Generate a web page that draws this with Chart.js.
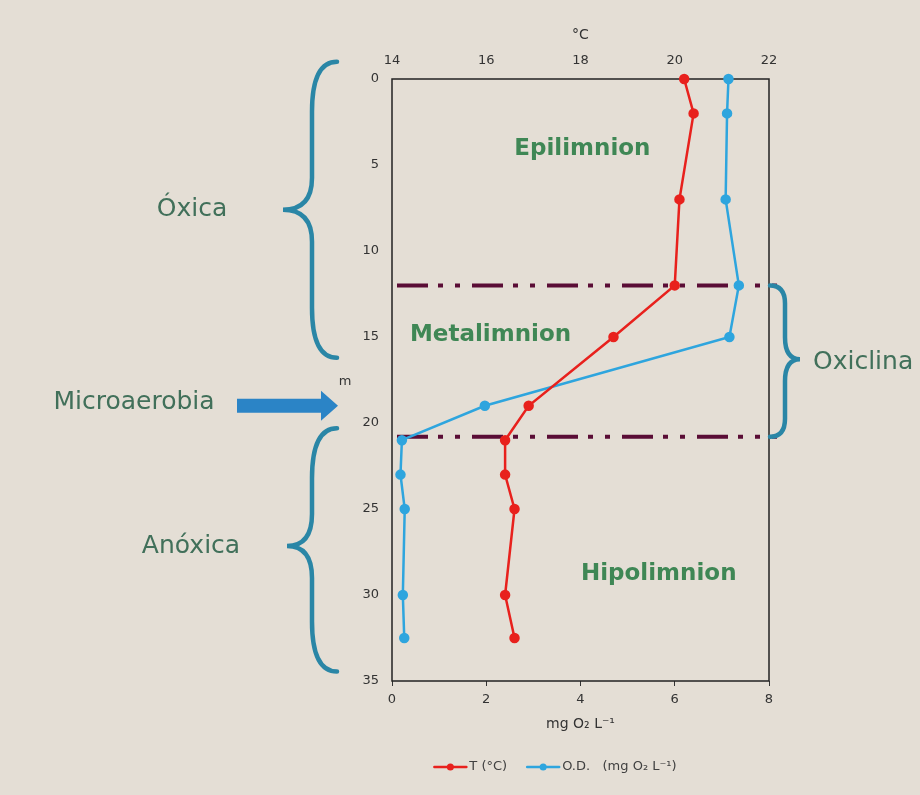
<!DOCTYPE html>
<html lang="es">
<head>
<meta charset="utf-8">
<title>Perfil de temperatura y oxígeno disuelto</title>
<script src="https://cdn.jsdelivr.net/npm/chart.js@4.4.1/dist/chart.umd.min.js"></script>
<style>
  html, body { margin: 0; padding: 0; background: #e4ded5; }
  canvas { display: block; }
</style>
</head>
<body>
<canvas id="perfil" width="920" height="795"></canvas>
<script>
// profundidad (m) de cada muestra
var profundidad = [0, 2, 7, 12, 15, 19, 21, 23, 25, 30, 32.5];
// temperatura (°C)
var temperatura = [20.2, 20.4, 20.1, 20.0, 18.7, 16.9, 16.4, 16.4, 16.6, 16.4, 16.6];
// oxígeno disuelto (mg O2 L-1)
var oxigeno = [7.14, 7.11, 7.08, 7.36, 7.16, 1.97, 0.21, 0.18, 0.27, 0.23, 0.26];

// límites de la oxiclina (m)
var limitesCapas = [12, 20.8];
var capas = ['Epilimnion', 'Metalimnion', 'Hipolimnion'];

var fuente = '"DejaVu Sans", sans-serif';
Chart.defaults.font.family = fuente;
Chart.defaults.color = '#333';

function puntos(valores) {
    var lista = [];
    for (var i = 0; i < profundidad.length; i++) {
        lista.push({ x: valores[i], y: profundidad[i] });
    }
    return lista;
}

// llave "{" o "}" segun el lado
function llave(ctx, xExt, xMed, xPico, yIni, yPico, yFin, r1, r2) {
    ctx.beginPath();
    ctx.moveTo(xExt, yIni);
    ctx.quadraticCurveTo(xMed, yIni, xMed, yIni + r1);
    ctx.lineTo(xMed, yPico - r2);
    ctx.quadraticCurveTo(xMed, yPico, xPico, yPico);
    ctx.quadraticCurveTo(xMed, yPico, xMed, yPico + r2);
    ctx.lineTo(xMed, yFin - r1);
    ctx.quadraticCurveTo(xMed, yFin, xExt, yFin);
    ctx.stroke();
}

var fondo = {
    id: 'fondo',
    beforeDraw: function (chart) {
        var ctx = chart.ctx;
        ctx.save();
        ctx.fillStyle = '#e4ded5';
        ctx.fillRect(0, 0, chart.width, chart.height);
        ctx.restore();
    }
};

var anotaciones = {
    id: 'anotaciones',
    beforeDatasetsDraw: function (chart) {
        var ctx = chart.ctx, a = chart.chartArea;
        var sy = chart.scales.y, sx = chart.scales.x;
        ctx.save();

        // marco del grafico
        ctx.strokeStyle = '#222';
        ctx.lineWidth = 1.5;
        ctx.strokeRect(a.left, a.top, a.right - a.left, a.bottom - a.top);

        // lineas de la oxiclina
        ctx.strokeStyle = '#5a0d36';
        ctx.lineWidth = 4;
        ctx.setLineDash([31, 10, 5, 12, 5, 12]);
        limitesCapas.forEach(function (p) {
            var py = sy.getPixelForValue(p);
            ctx.beginPath();
            ctx.moveTo(a.left + 5, py);
            ctx.lineTo(a.right + 8, py);
            ctx.stroke();
        });
        ctx.setLineDash([]);

        // nombres de las capas
        var posCapas = [[4.04, 4.1], [2.09, 14.9], [5.66, 28.8]];
        ctx.fillStyle = '#3f8755';
        ctx.font = 'bold 23px ' + fuente;
        ctx.textAlign = 'center';
        ctx.textBaseline = 'middle';
        capas.forEach(function (c, i) {
            ctx.fillText(c, sx.getPixelForValue(posCapas[i][0]), sy.getPixelForValue(posCapas[i][1]));
        });
        ctx.restore();
    },
    afterDraw: function (chart) {
        var ctx = chart.ctx, a = chart.chartArea, sy = chart.scales.y;
        ctx.save();

        // titulo del eje de profundidad
        ctx.fillStyle = '#333';
        ctx.font = '13px ' + fuente;
        ctx.textAlign = 'center';
        ctx.textBaseline = 'middle';
        ctx.fillText('m', a.left - 47, sy.getPixelForValue(17.6));

        // llaves
        ctx.strokeStyle = '#2a86a6';
        ctx.lineWidth = 4.5;
        ctx.lineCap = 'round';
        llave(ctx, a.left - 55, a.left - 80, a.left - 109,
            sy.getPixelForValue(-1), sy.getPixelForValue(7.6), sy.getPixelForValue(16.2), 50, 32);
        llave(ctx, a.left - 55, a.left - 80, a.left - 105,
            sy.getPixelForValue(20.3), sy.getPixelForValue(27.15), sy.getPixelForValue(34.45), 50, 32);
        llave(ctx, a.right + 1, a.right + 16, a.right + 31,
            sy.getPixelForValue(limitesCapas[0]), sy.getPixelForValue(16.3), sy.getPixelForValue(limitesCapas[1]), 18, 22);

        // textos
        ctx.fillStyle = '#41705a';
        ctx.font = '25px ' + fuente;
        ctx.textAlign = 'center';
        ctx.fillText('Óxica', 192, sy.getPixelForValue(7.6));
        ctx.fillText('Anóxica', 191, sy.getPixelForValue(27.2));
        ctx.fillText('Microaerobia', 134, sy.getPixelForValue(18.8));
        ctx.textAlign = 'left';
        ctx.fillText('Oxiclina', a.right + 44, sy.getPixelForValue(16.5));

        // flecha de microaerobia
        var fy = sy.getPixelForValue(19);
        ctx.fillStyle = '#2b84c6';
        ctx.beginPath();
        ctx.moveTo(237, fy - 7);
        ctx.lineTo(321, fy - 7);
        ctx.lineTo(321, fy - 15);
        ctx.lineTo(338, fy);
        ctx.lineTo(321, fy + 15);
        ctx.lineTo(321, fy + 7);
        ctx.lineTo(237, fy + 7);
        ctx.closePath();
        ctx.fill();

        // leyenda
        var ly = a.bottom + 86;
        ctx.font = '13px ' + fuente;
        ctx.textBaseline = 'middle';
        ctx.textAlign = 'left';
        var ds = chart.data.datasets;
        var anchos = ds.map(function (d) { return 35 + ctx.measureText(d.label).width; });
        var total = anchos[0] + anchos[1] + 20;
        var lx = (a.left + a.right) / 2 - 25 - total / 2;
        ds.forEach(function (d, i) {
            ctx.strokeStyle = d.borderColor;
            ctx.lineWidth = 2.5;
            ctx.beginPath();
            ctx.moveTo(lx, ly);
            ctx.lineTo(lx + 32, ly);
            ctx.stroke();
            ctx.fillStyle = d.borderColor;
            ctx.beginPath();
            ctx.arc(lx + 16, ly, 3.5, 0, Math.PI * 2);
            ctx.fill();
            ctx.fillStyle = '#404040';
            ctx.fillText(d.label, lx + 35, ly);
            lx += anchos[i] + 20;
        });
        ctx.restore();
    }
};

var ctx = document.getElementById('perfil').getContext('2d');

var perfil = new Chart(ctx, {
    type: 'line',
    data: {
        datasets: [{
            label: 'T (°C)',
            data: puntos(temperatura),
            xAxisID: 'xT',
            borderColor: '#e8211d',
            backgroundColor: '#e8211d',
            borderWidth: 2.5,
            pointRadius: 4,
            pointHoverRadius: 4,
            clip: false
        }, {
            label: 'O.D.   (mg O₂ L⁻¹)',
            data: puntos(oxigeno),
            xAxisID: 'x',
            borderColor: '#2ea5de',
            backgroundColor: '#2ea5de',
            borderWidth: 2.5,
            pointRadius: 4,
            pointHoverRadius: 4,
            clip: false
        }]
    },
    options: {
        responsive: false,
        animation: false,
        layout: { padding: { left: 0, right: 151, top: 0, bottom: 54 } },
        plugins: {
            legend: { display: false },
            tooltip: { enabled: false }
        },
        scales: {
            x: {
                type: 'linear',
                position: 'bottom',
                min: 0,
                max: 8,
                ticks: { stepSize: 2, padding: 6, font: { size: 13 }, color: '#333' },
                grid: { drawOnChartArea: false, drawTicks: true, tickLength: 5, color: '#333' },
                border: { display: false },
                title: { display: true, text: 'mg O₂ L⁻¹', font: { size: 14 }, color: '#333', padding: { top: 0, bottom: 8 } },
                afterFit: function (s) { s.height = 60; }
            },
            xT: {
                type: 'linear',
                position: 'top',
                min: 14,
                max: 22,
                ticks: { stepSize: 2, padding: 11, font: { size: 13 }, color: '#333' },
                grid: { drawOnChartArea: false, drawTicks: false },
                border: { display: false },
                title: { display: true, text: '°C', font: { size: 14 }, color: '#333', padding: { top: 27, bottom: 0 } },
                afterFit: function (s) { s.height = 79; }
            },
            y: {
                type: 'linear',
                position: 'left',
                reverse: true,
                min: 0,
                max: 35,
                ticks: { stepSize: 5, padding: 13, font: { size: 13 }, color: '#333' },
                grid: { display: false, drawTicks: false },
                border: { display: false },
                afterFit: function (s) { s.width = 392; }
            }
        }
    },
    plugins: [fondo, anotaciones]
});
</script>
</body>
</html>
